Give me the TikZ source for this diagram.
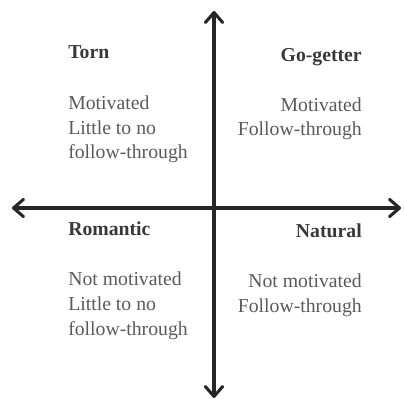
\documentclass[tikz,border=0pt]{standalone}
\usepackage{fontspec}
\setmainfont{Liberation Serif}
\usetikzlibrary{arrows.meta}
\definecolor{axiscol}{HTML}{262626}
\definecolor{titlecol}{HTML}{383838}
\definecolor{bodycol}{HTML}{5A5A5A}
\begin{document}
\begin{tikzpicture}[x=0.75pt,y=-0.75pt,
  axis/.style={line width=2.3pt,draw=axiscol,line cap=round,
    {Straight Barb[length=7.5pt,width=13pt,line cap=round,line join=round]}-{Straight Barb[length=7.5pt,width=13pt,line cap=round,line join=round]}},
  title/.style={font=\fontsize{14.8}{18.4}\selectfont\bfseries,text=titlecol,inner sep=0pt},
  body/.style={font=\fontsize{14.8}{18.4}\selectfont,text=bodycol,inner sep=0pt}]
\useasboundingbox (0,0) rectangle (403,409);
\coordinate (top) at (214,11);
\coordinate (bottom) at (214,398);
\coordinate (left) at (12,208);
\coordinate (right) at (401,208);
\draw[axis] (top) -- (bottom);
\draw[axis] (left) -- (right);
\node[title,anchor=base west] (torn) at (68,59) {Torn};
\node[title,anchor=base east] (go) at (362,62) {Go-getter};
\node[title,anchor=base west] (rom) at (68,235) {Romantic};
\node[title,anchor=base east] (nat) at (362,237) {Natural};
\node[body,anchor=base west,align=left] (tornb) at (68,159) {Motivated\\Little to no\\follow-through};
\node[body,anchor=base east,align=right] (gob) at (362,136) {Motivated\\Follow-through};
\node[body,anchor=base west,align=left] (romb) at (68,335) {Not motivated\\Little to no\\follow-through};
\node[body,anchor=base east,align=right] (natb) at (362,312) {Not motivated\\Follow-through};
\end{tikzpicture}
\end{document}
